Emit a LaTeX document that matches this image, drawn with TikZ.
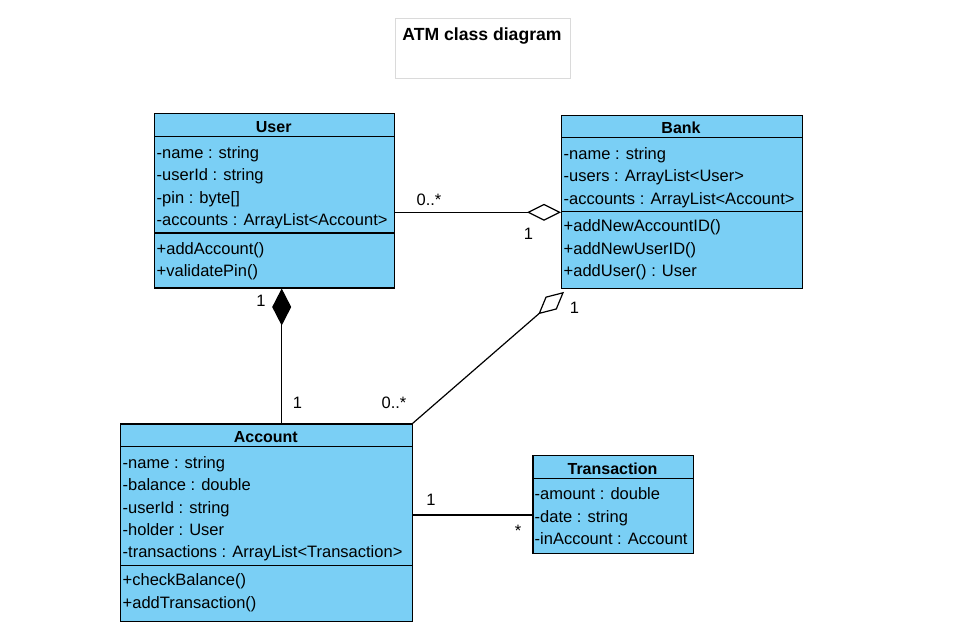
\documentclass[tikz,border=0pt]{standalone}
\usepackage{fontspec}
\setmainfont{Liberation Sans}
\usetikzlibrary{arrows.meta}
\definecolor{clsfill}{RGB}{122,207,245}
\definecolor{titleborder}{RGB}{218,218,218}
\begin{document}
\begin{tikzpicture}[x=1pt,y=-1pt,
 box/.style={draw=black, fill=clsfill, line width=1.2pt, inner sep=0pt, anchor=north west},
 hdr/.style={font=\fontsize{16}{19}\selectfont\bfseries, anchor=base, inner sep=0pt},
 mem/.style={font=\fontsize{16.5}{19}\selectfont, anchor=base west, inner sep=0pt},
 lbl/.style={font=\fontsize{16.5}{19}\selectfont, anchor=base, inner sep=0pt},
 sep/.style={line width=1.2pt},
 conn/.style={line width=1.2pt},
 agg/.style={-{Diamond[open,fill=white,length=34pt,width=17pt]}},
 comp/.style={-{Diamond[length=37pt,width=19pt]}}]

\useasboundingbox (0,0) rectangle (957,633);

% title
\node[draw=titleborder, line width=1pt, minimum width=175pt, minimum height=60pt, anchor=north west, inner sep=0pt] (titlebox) at (395,18.3) {};
\node[font=\fontsize{17.6}{20}\selectfont\bfseries, anchor=base, inner sep=0pt] (title) at (482,40.7) {ATM class diagram};

% User
\node[box, minimum width=239.5pt, minimum height=174.3pt] (user) at (154,113) {};
\draw[sep] ([yshift=-23.5pt]user.north west) -- ([yshift=-23.5pt]user.north east);
\draw[sep] ([yshift=-120pt]user.north west) -- ([yshift=-120pt]user.north east);
\node[hdr] (userT) at (273.7,132) {User};
\node[mem] (u1) at (156.5,158) {-name : string};
\node[mem] (u2) at (156.5,180.5) {-userId : string};
\node[mem] (u3) at (156.5,203) {-pin : byte[]};
\node[mem] (u4) at (156.5,225) {-accounts : ArrayList<Account>};
\node[mem] (u5) at (156.5,254) {+addAccount()};
\node[mem] (u6) at (156.5,276) {+validatePin()};

% Bank
\node[box, minimum width=240.5pt, minimum height=173.5pt] (bank) at (561,114.5) {};
\draw[sep] ([yshift=-23pt]bank.north west) -- ([yshift=-23pt]bank.north east);
\draw[sep] ([yshift=-97pt]bank.north west) -- ([yshift=-97pt]bank.north east);
\node[hdr] (bankT) at (681,133) {Bank};
\node[mem] (b1) at (563.5,159.5) {-name : string};
\node[mem] (b2) at (563.5,181.5) {-users : ArrayList<User>};
\node[mem] (b3) at (563.5,204) {-accounts : ArrayList<Account>};
\node[mem] (b4) at (563.5,231.5) {+addNewAccountID()};
\node[mem] (b5) at (563.5,254) {+addNewUserID()};
\node[mem] (b6) at (563.5,276) {+addUser() : User};

% Account
\node[box, minimum width=291.5pt, minimum height=197.5pt] (account) at (120,423.3) {};
\draw[sep] ([yshift=-23pt]account.north west) -- ([yshift=-23pt]account.north east);
\draw[sep] ([yshift=-142pt]account.north west) -- ([yshift=-142pt]account.north east);
\node[hdr] (accountT) at (265.8,442) {Account};
\node[mem] (a1) at (122.5,468) {-name : string};
\node[mem] (a2) at (122.5,490.3) {-balance : double};
\node[mem] (a3) at (122.5,513.5) {-userId : string};
\node[mem] (a4) at (122.5,535.3) {-holder : User};
\node[mem] (a5) at (122.5,557.3) {-transactions : ArrayList<Transaction>};
\node[mem] (a6) at (122.5,585.7) {+checkBalance()};
\node[mem] (a7) at (122.5,608.5) {+addTransaction()};

% Transaction
\node[box, minimum width=160.5pt, minimum height=97.7pt] (trans) at (532.3,455) {};
\draw[sep] ([yshift=-23.3pt]trans.north west) -- ([yshift=-23.3pt]trans.north east);
\node[hdr] (transT) at (612.5,474) {Transaction};
\node[mem] (t1) at (534.5,499) {-amount : double};
\node[mem] (t2) at (534.5,522.3) {-date : string};
\node[mem] (t3) at (534.5,544.3) {-inAccount : Account};

% connectors
\draw[conn, agg] (user.east |- 0,212.3) -- (bank.west |- 0,212.3);
\draw[conn, comp] (account.north west -| 281.7,0) -- (user.south west -| 281.7,0);
\draw[conn, agg] (account.north east) -- ([xshift=3pt,yshift=-2.7pt]bank.south west);
\draw[conn] (account.east |- 0,515) -- (trans.west |- 0,515);

% multiplicities
\node[lbl] (m1) at (429,205) {0..*};
\node[lbl] (m2) at (528.5,239.3) {1};
\node[lbl] (m3) at (261,306.7) {1};
\node[lbl] (m4) at (297.5,408.3) {1};
\node[lbl] (m5) at (394,408) {0..*};
\node[lbl] (m6) at (574.5,313.3) {1};
\node[lbl] (m7) at (431,505) {1};
\node[lbl] (m8) at (518,536) {*};
\end{tikzpicture}
\end{document}
